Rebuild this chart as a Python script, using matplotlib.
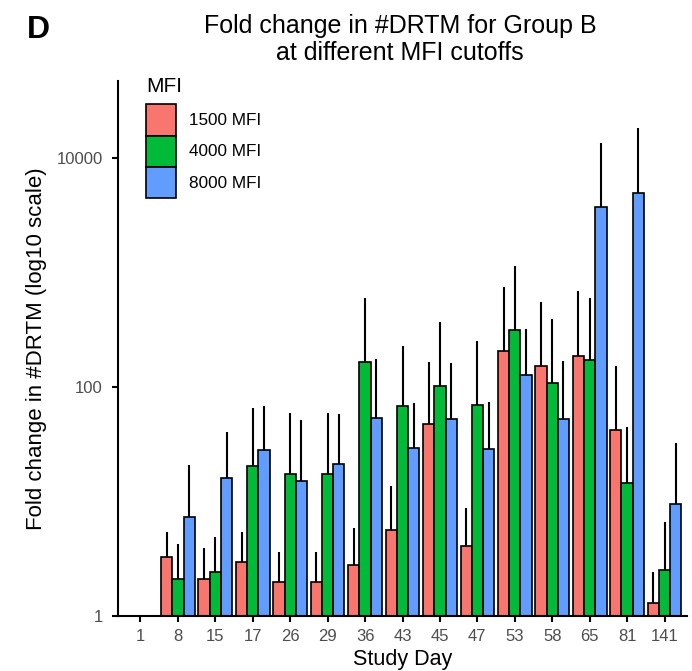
import matplotlib
matplotlib.use("Agg")
import matplotlib.pyplot as plt
import numpy as np
from matplotlib.ticker import FixedLocator, NullLocator, FixedFormatter

plt.rcParams['font.family'] = ['Liberation Sans', 'DejaVu Sans']

days = ["1", "8", "15", "17", "26", "29", "36", "43", "45", "47", "53", "58", "65", "81", "141"]
series = ["1500 MFI", "4000 MFI", "8000 MFI"]
colors = ["#F8766D", "#00BA38", "#619CFF"]

val_1500 = [1, 3.28, 2.12, 2.98, 1.97, 1.98, 2.8, 5.64, 47.2, 4.11, 206, 153, 188, 42.4, 1.30]
val_4000 = [1, 2.09, 2.44, 20.3, 17.3, 17.3, 165, 68, 101, 69.6, 315, 109, 171, 14.5, 2.54]
val_8000 = [1, 7.3, 15.9, 28, 15.2, 21.3, 54, 29.5, 52.5, 28.6, 127, 53, 3733, 4980, 9.46]

err_1500 = [1, 5.4, 3.9, 5.38, 3.6, 3.6, 5.9, 13.7, 164, 8.8, 747, 552, 689, 152, 2.41]
err_4000 = [1, 4.28, 4.87, 66, 59.7, 59.7, 603, 228, 367, 251, 1148, 390, 603, 44.5, 6.6]
err_8000 = [1, 20.7, 40.2, 68, 51, 58, 175, 73, 163, 74.5, 319, 168, 13440, 18170, 32.6]

yticks = [1, 100, 10000]
ytick_labels = ["1", "100", "10000"]

W, H = 692, 671
fig = plt.figure(figsize=(W / 100, H / 100), dpi=100)
ax = fig.add_axes([118 / W, 1 - 616 / H, (687 - 118) / W, (616 - 81) / H])

vals = [val_1500, val_4000, val_8000]
errs = [err_1500, err_4000, err_8000]
x = np.arange(len(days))
bw = 0.3
handles = []
for i, (v, e, c, s) in enumerate(zip(vals, errs, colors, series)):
    v = np.array(v, dtype=float)
    e = np.array(e, dtype=float)
    xs = x + (i - 1) * bw
    h = ax.bar(xs, v - 1, bottom=1, width=bw, color=c, edgecolor="black",
               linewidth=1.2, label=s, zorder=2)
    handles.append(h)
    ax.errorbar(xs, v, yerr=[np.zeros_like(v), e - v], fmt="none", ecolor="black",
                elinewidth=1.5, capsize=0, zorder=3)

ax.set_yscale("log")
ax.set_ylim(1, 47000)
ax.set_xlim(-0.6, len(days) - 1 + 0.6)
ax.yaxis.set_major_locator(FixedLocator(yticks))
ax.yaxis.set_major_formatter(FixedFormatter(ytick_labels))
ax.yaxis.set_minor_locator(NullLocator())
ax.set_xticks(x)
ax.set_xticklabels(days)

for sp in ["top", "right"]:
    ax.spines[sp].set_visible(False)
for sp in ["left", "bottom"]:
    ax.spines[sp].set_linewidth(1.5)
    ax.spines[sp].set_color("black")
ax.tick_params(axis="both", length=4.3, width=1.5, color="black", labelcolor="#4D4D4D",
               labelsize=12, pad=5)
ax.tick_params(axis="y", pad=6.5)

ax.set_xlabel("Study Day", fontsize=15.5)
ax.xaxis.set_label_coords(0.5, (616 - 649) / 535)
ax.set_ylabel("Fold change in #DRTM (log10 scale)", fontsize=16)
ax.yaxis.set_label_coords((47 - 118) / 569, 0.5)

fig.text(400 / W, 1 - 13.5 / H, "Fold change in #DRTM for Group B\nat different MFI cutoffs",
         ha="center", va="top", fontsize=18, linespacing=1.2, multialignment="center")
fig.text(27 / W, 1 - 15 / H, "D", ha="left", va="top", fontsize=23, fontweight="bold")

leg = ax.legend(handles=handles, labels=series, title="MFI", loc="upper left",
                bbox_to_anchor=(146 / W, 1 - 77 / H), bbox_transform=fig.transFigure,
                frameon=False, fontsize=12.3, title_fontsize=15, labelspacing=0.0,
                handlelength=1.75, handleheight=2.44, handletextpad=0.76,
                alignment="left", borderpad=0.0, borderaxespad=0.0)
leg._legend_box.sep = 6.0

fig.savefig("out.png", dpi=100)
